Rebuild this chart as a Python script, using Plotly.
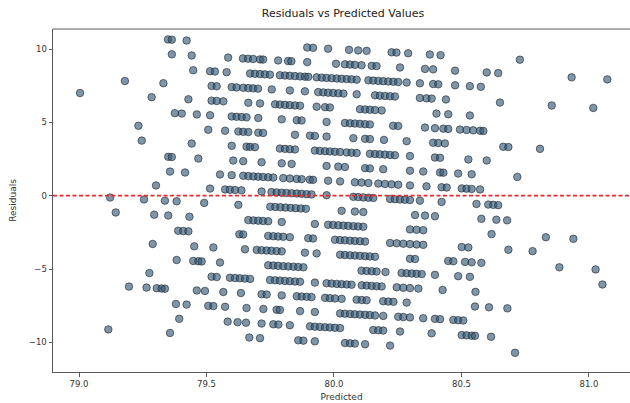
import plotly.graph_objects as go

# Predicted values grouped by the (integer) observed value they belong to.
pred_at_90 = [79.349, 79.364, 79.422, 79.895, 79.918, 79.977, 80.059, 80.095, 80.128, 80.226,
              80.245, 80.291, 80.376, 80.418, 80.729]
pred_at_89 = [79.364, 79.442, 79.585, 79.643, 79.663, 79.683, 79.710, 79.722, 79.781, 79.820,
              79.833, 79.895, 80.008, 80.043, 80.063, 80.082, 80.108, 80.148, 80.167, 80.259,
              80.357, 80.389, 80.475, 80.599, 80.644, 80.932, 81.072]
pred_at_88 = [79.448, 79.514, 79.533, 79.579, 79.671, 79.690, 79.710, 79.729, 79.749, 79.788,
              79.808, 79.827, 79.847, 79.867, 79.886, 79.899, 79.932, 79.952, 79.971, 79.991,
              80.011, 80.030, 80.050, 80.069, 80.089, 80.135, 80.154, 80.174, 80.193, 80.213,
              80.233, 80.252, 80.285, 80.337, 80.389, 80.409, 80.475, 80.533, 80.576]
pred_at_87 = [79.180, 79.331, 79.520, 79.540, 79.599, 79.618, 79.644, 79.664, 79.683, 79.702,
              79.756, 79.827, 79.886, 79.938, 79.958, 79.977, 79.997, 80.017, 80.037, 80.089,
              80.161, 80.180, 80.200, 80.220, 80.239, 80.337, 80.363, 80.383, 80.439, 80.651,
              80.854, 81.017]
pred_at_86 = [79.004, 79.285, 79.429, 79.520, 79.540, 79.566, 79.664, 79.710, 79.769, 79.788,
              79.808, 79.827, 79.847, 79.867, 79.932, 79.965, 79.984, 80.102, 80.122, 80.141,
              80.161, 80.187, 80.402, 80.448, 80.533]
pred_at_85 = [79.376, 79.403, 79.462, 79.514, 79.599, 79.618, 79.638, 79.657, 79.703, 79.795,
              79.854, 79.873, 79.971, 80.043, 80.063, 80.082, 80.102, 80.122, 80.141, 80.232,
              80.252, 80.357, 80.396, 80.429, 80.448, 80.494, 80.520, 80.546, 80.573, 80.586]
pred_at_84 = [79.233, 79.507, 79.573, 79.625, 79.644, 79.664, 79.703, 79.722, 79.847, 79.906,
              79.925, 79.971, 80.076, 80.122, 80.141, 80.196, 80.285, 80.389, 80.409, 80.435,
              80.664, 80.684, 80.808]
pred_at_83 = [79.246, 79.442, 79.599, 79.657, 79.671, 79.690, 79.788, 79.808, 79.827, 79.847,
              79.925, 79.945, 79.965, 79.984, 80.004, 80.024, 80.050, 80.069, 80.089, 80.141,
              80.161, 80.180, 80.200, 80.220, 80.239, 80.298, 80.396, 80.416, 80.527, 80.599]
pred_at_82 = [79.350, 79.364, 79.468, 79.605, 79.644, 79.716, 79.795, 79.834, 79.971, 80.017,
              80.043, 80.122, 80.141, 80.193, 80.298, 80.350, 80.416, 80.429, 80.487, 80.540,
              80.719]
pred_at_81 = [79.357, 79.416, 79.553, 79.599, 79.644, 79.664, 79.684, 79.703, 79.722, 79.742,
              79.762, 79.801, 79.827, 79.854, 79.873, 79.905, 79.918, 79.977, 80.024, 80.082,
              80.108, 80.135, 80.174, 80.200, 80.226, 80.252, 80.298, 80.363, 80.422, 80.442,
              80.501, 80.520, 80.540, 80.573]
pred_at_80 = [79.302, 79.514, 79.573, 79.592, 79.612, 79.637, 79.716, 79.755, 79.775, 79.795,
              79.814, 79.834, 79.854, 79.873, 79.893, 79.912, 79.971, 80.076, 80.095, 80.115,
              80.135, 80.154, 80.220, 80.239, 80.259, 80.278, 80.298, 80.337, 80.422, 80.559,
              80.605, 80.625, 80.644]
pred_at_79 = [79.122, 79.255, 79.337, 79.383, 79.491, 79.625, 79.750, 79.770, 79.790, 79.810,
              79.830, 79.850, 79.870, 79.890, 80.030, 80.082, 80.115, 80.318, 80.357, 80.396,
              80.578, 80.637, 80.679]
pred_at_78 = [79.144, 79.295, 79.350, 79.433, 79.664, 79.684, 79.703, 79.722, 79.742, 79.795,
              79.925, 79.977, 79.997, 80.017, 80.037, 80.056, 80.076, 80.095, 80.115, 80.298,
              80.324, 80.350, 80.618, 80.831, 80.939]
pred_at_77 = [79.389, 79.409, 79.429, 79.629, 79.644, 79.742, 79.762, 79.781, 79.801, 79.827,
              79.899, 79.918, 80.004, 80.024, 80.043, 80.063, 80.082, 80.102, 80.122, 80.220,
              80.246, 80.272, 80.298, 80.324, 80.350, 80.501, 80.527, 80.684, 80.779]
pred_at_76 = [79.289, 79.452, 79.527, 79.651, 79.697, 79.716, 79.736, 79.755, 79.775, 79.795,
              79.886, 79.932, 80.024, 80.043, 80.063, 80.082, 80.102, 80.122, 80.141, 80.161,
              80.298, 80.318, 80.448, 80.468, 80.514, 80.540, 80.578, 80.884, 81.026]
pred_at_75 = [79.383, 79.448, 79.468, 79.481, 79.553, 79.742, 79.762, 79.781, 79.801, 79.821,
              79.841, 79.860, 79.880, 80.108, 80.128, 80.148, 80.167, 80.202, 80.265, 80.285,
              80.305, 80.324, 80.344, 80.396, 80.487, 80.533, 81.053]
pred_at_74 = [79.276, 79.520, 79.540, 79.592, 79.612, 79.631, 79.651, 79.671, 79.749, 79.769,
              79.788, 79.808, 79.827, 79.847, 79.867, 79.925, 79.971, 79.991, 80.011, 80.030,
              80.050, 80.069, 80.109, 80.128, 80.148, 80.167, 80.187, 80.246, 80.272, 80.298,
              80.331, 80.426, 80.555]
pred_at_73 = [79.196, 79.265, 79.305, 79.324, 79.337, 79.462, 79.494, 79.566, 79.635, 79.716,
              79.736, 79.795, 79.854, 79.873, 79.893, 79.912, 79.965, 79.984, 80.004, 80.030,
              80.089, 80.109, 80.128, 80.193, 80.213, 80.233, 80.285, 80.553, 80.608, 80.680]
pred_at_72 = [79.380, 79.422, 79.507, 79.527, 79.573, 79.657, 79.723, 79.775, 79.788, 79.867,
              79.925, 80.024, 80.043, 80.063, 80.082, 80.102, 80.122, 80.141, 80.161, 80.193,
              80.252, 80.272, 80.298, 80.350, 80.396, 80.416, 80.468, 80.487, 80.507]
pred_at_71 = [79.393, 79.583, 79.622, 79.655, 79.716, 79.762, 79.782, 79.827, 79.906, 79.925,
              79.945, 79.965, 79.984, 80.004, 80.024, 80.154, 80.174, 80.193, 80.259, 80.383,
              80.501, 80.520, 80.540, 80.553, 80.616]
pred_at_70 = [79.115, 79.357, 79.668, 79.710, 79.860, 79.880, 79.925, 80.043, 80.063, 80.082,
              80.122, 80.220, 80.710]

observed_levels = [90, 89, 88, 87, 86, 85, 84, 83, 82, 81, 80, 79, 78, 77, 76, 75, 74, 73, 72, 71, 70]
pred_groups = [pred_at_90, pred_at_89, pred_at_88, pred_at_87, pred_at_86, pred_at_85, pred_at_84,
               pred_at_83, pred_at_82, pred_at_81, pred_at_80, pred_at_79, pred_at_78, pred_at_77,
               pred_at_76, pred_at_75, pred_at_74, pred_at_73, pred_at_72, pred_at_71, pred_at_70]

x_ticks = [79.0, 79.5, 80.0, 80.5, 81.0]
x_tick_text = ["79.0", "79.5", "80.0", "80.5", "81.0"]
y_ticks = [-10, -5, 0, 5, 10]
y_tick_text = ["\u221210", "\u22125", "0", "5", "10"]

# Flatten into observed / predicted pairs; residual = observed - predicted.
predicted = []
observed = []
for level, preds in zip(observed_levels, pred_groups):
    for p in preds:
        predicted.append(p)
        observed.append(level)
residuals = [o - p for o, p in zip(observed, predicted)]

FONT = "DejaVu Sans"
AXIS_COLOR = "#5a5a5a"

fig = go.Figure()
fig.add_trace(go.Scatter(
    x=predicted,
    y=residuals,
    mode="markers",
    marker=dict(
        size=7.5,
        color="rgba(48,86,114,0.62)",
        line=dict(width=0.9, color="rgba(28,40,52,0.7)"),
    ),
    showlegend=False,
    hoverinfo="x+y",
))

# Zero-residual reference line across the full width
fig.add_shape(type="line", xref="paper", yref="y", x0=0, x1=1, y0=0, y1=0,
              line=dict(color="#f0282e", width=1.8, dash="4px,2.5px"), layer="above")
# Top frame edge
fig.add_shape(type="line", xref="paper", yref="paper", x0=0, x1=1, y0=1, y1=1,
              line=dict(color=AXIS_COLOR, width=1), layer="above")

fig.update_layout(
    width=630,
    height=403,
    margin=dict(l=53, r=0, t=29, b=31),
    paper_bgcolor="white",
    plot_bgcolor="white",
    font=dict(family=FONT, size=9, color="#333333"),
    title=dict(
        text="Residuals vs Predicted Values",
        x=0.5026, xanchor="center", xref="paper",
        y=1 - 13 / 403, yanchor="middle", yref="container",
        font=dict(family=FONT, size=11, color="#222222"),
    ),
)
fig.update_xaxes(
    range=[78.898, 81.161],
    tickvals=x_ticks, ticktext=x_tick_text,
    showgrid=False, zeroline=False,
    showline=True, linecolor=AXIS_COLOR, linewidth=1,
    ticks="outside", ticklen=3.5, tickcolor=AXIS_COLOR, tickwidth=1,
    tickfont=dict(family=FONT, size=8.5, color="#333333"),
    title=dict(text="Predicted", standoff=5, font=dict(family=FONT, size=9, color="#333333")),
)
fig.update_yaxes(
    range=[-12.018, 11.363],
    tickvals=y_ticks, ticktext=y_tick_text,
    showgrid=False, zeroline=False,
    showline=True, linecolor=AXIS_COLOR, linewidth=1,
    ticks="outside", ticklen=3.5, tickcolor=AXIS_COLOR, tickwidth=1,
    tickfont=dict(family=FONT, size=8.5, color="#333333"),
    title=dict(text="Residuals", standoff=10, font=dict(family=FONT, size=9, color="#333333")),
)

fig.write_html("out.html")
